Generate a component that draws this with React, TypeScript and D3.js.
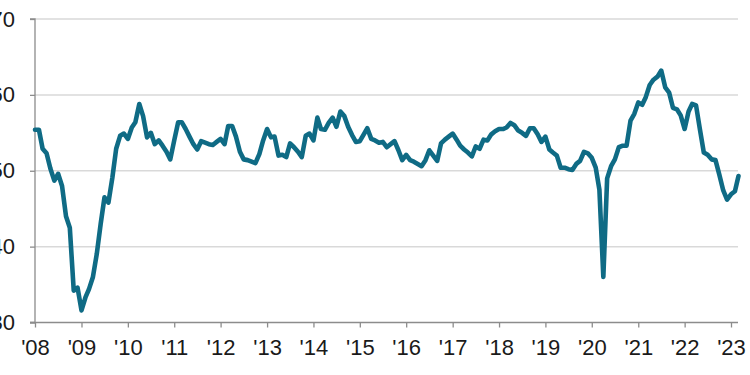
import * as d3 from 'd3';
import React, { useEffect, useRef } from 'react';

// monthly index readings, Jan 2008 - Mar 2023
const values2008 = [55.4, 55.4, 52.9, 52.3, 50.3, 48.7, 49.6, 48.0, 44.0, 42.5, 34.2, 34.6];
const values2009 = [31.6, 33.3, 34.4, 36.0, 39.0, 43.0, 46.5, 45.8, 49.1, 52.9, 54.6, 54.9];
const values2010 = [54.2, 55.7, 56.4, 58.8, 57.2, 54.4, 55.0, 53.5, 54.0, 53.3, 52.5, 51.5];
const values2011 = [54.0, 56.4, 56.4, 55.5, 54.5, 53.5, 52.8, 53.9, 53.7, 53.5, 53.4, 53.8];
const values2012 = [54.2, 53.5, 55.9, 55.9, 54.5, 52.5, 51.5, 51.4, 51.2, 51.0, 52.2, 54.0];
const values2013 = [55.5, 54.4, 54.5, 52.0, 52.1, 51.8, 53.6, 53.1, 52.5, 51.8, 54.6, 54.9];
const values2014 = [54.0, 57.0, 55.5, 55.4, 56.3, 57.0, 55.8, 57.8, 57.2, 55.8, 54.7, 53.8];
const values2015 = [53.9, 54.8, 55.6, 54.2, 54.0, 53.7, 53.8, 53.1, 53.5, 53.9, 52.7, 51.4];
const values2016 = [52.1, 51.4, 51.2, 50.9, 50.6, 51.4, 52.7, 52.0, 51.3, 53.6, 54.1, 54.5];
const values2017 = [54.9, 54.1, 53.3, 52.8, 52.4, 51.9, 53.2, 52.9, 54.1, 54.0, 54.8, 55.2];
const values2018 = [55.5, 55.5, 55.7, 56.3, 56.0, 55.3, 55.0, 54.6, 55.6, 55.6, 54.8, 53.8];
const values2019 = [54.5, 52.8, 52.4, 52.0, 50.4, 50.4, 50.2, 50.1, 50.9, 51.3, 52.5, 52.3];
const values2020 = [51.7, 50.4, 47.5, 36.0, 49.0, 50.6, 51.5, 53.1, 53.3, 53.3, 56.6, 57.5];
const values2021 = [59.0, 58.7, 59.7, 61.3, 62.0, 62.4, 63.2, 61.0, 60.3, 58.3, 58.1, 57.3];
const values2022 = [55.5, 57.8, 58.8, 58.6, 55.5, 52.4, 52.1, 51.5, 51.4, 49.5, 47.4, 46.2];
const values2023 = [46.9, 47.3, 49.3];

const monthlyValues = [
  ...values2008, ...values2009, ...values2010, ...values2011, ...values2012, ...values2013,
  ...values2014, ...values2015, ...values2016, ...values2017, ...values2018, ...values2019,
  ...values2020, ...values2021, ...values2022, ...values2023,
];

const yTicks = [30, 40, 50, 60, 70];
const tickYears = [2008, 2009, 2010, 2011, 2012, 2013, 2014, 2015, 2016, 2017, 2018, 2019, 2020, 2021, 2022, 2023];

interface DataItem {
  date: Date;
  value: number;
}

const data: DataItem[] = monthlyValues.map((value, i) => ({
  date: d3.timeMonth.offset(new Date(2008, 0, 1), i),
  value,
}));

const width = 750;
const height = 375;
const left = 35;
const right = 738;
const top = 19;
const bottom = 322.5;
const font = "'Liberation Sans', Arial, sans-serif";

const App: React.FC = () => {
  const ref = useRef<SVGSVGElement>(null);
  useEffect(() => {
    document.body.style.margin = '0';
    const x = d3
      .scaleTime()
      .domain([new Date(2008, 0, 1), new Date(2023, 0, 1)])
      .range([left, 731]);
    const y = d3.scaleLinear().domain([30, 70]).range([bottom, top]);

    const svg = d3.select(ref.current);
    svg.selectAll('*').remove();

    // horizontal gridlines
    svg
      .append('g')
      .selectAll('line')
      .data(yTicks.filter((t) => t > 30))
      .join('line')
      .attr('x1', left)
      .attr('x2', right)
      .attr('y1', (d) => y(d))
      .attr('y2', (d) => y(d))
      .attr('stroke', '#d9d9d9')
      .attr('stroke-width', 1.5);

    // y axis (labels run off the left edge)
    const yAxis = svg
      .append('g')
      .attr('transform', `translate(${left},0)`)
      .call(d3.axisLeft(y).tickValues(yTicks).tickSize(5).tickPadding(15).tickFormat(d3.format('d')));
    yAxis.selectAll('path, line').attr('stroke', '#8c8c8c').attr('stroke-width', 1.3);
    yAxis.selectAll('text').attr('font-family', font).attr('font-size', 22).attr('fill', '#1a1a1a');
    yAxis.select('.domain').attr('d', `M-5,${bottom}H0V${top}H-5`);

    // x axis
    const xAxis = svg
      .append('g')
      .attr('transform', `translate(0,${bottom})`)
      .call(
        d3
          .axisBottom(x)
          .tickValues(tickYears.map((yr) => new Date(yr, 0, 1)))
          .tickSize(5)
          .tickPadding(12)
          .tickSizeOuter(0)
          .tickFormat((d: any) => `'${d3.timeFormat('%y')(d)}`)
      );
    xAxis.select('.domain').attr('d', `M${left - 5},0H${right}`);
    xAxis.selectAll('path, line').attr('stroke', '#8c8c8c').attr('stroke-width', 1.3);
    xAxis.selectAll('text').attr('font-family', font).attr('font-size', 22).attr('fill', '#1a1a1a');

    const line = d3
      .line<DataItem>()
      .x((d) => x(d.date))
      .y((d) => y(d.value));

    svg
      .append('path')
      .datum(data)
      .attr('fill', 'none')
      .attr('stroke', '#0f6b85')
      .attr('stroke-width', 4.6)
      .attr('stroke-linejoin', 'round')
      .attr('stroke-linecap', 'round')
      .attr('d', line);
  }, []);
  return (
    <div>
      <svg ref={ref} width={width} height={height} style={{ display: 'block', background: '#fff' }}></svg>
    </div>
  );
};

export default App;
